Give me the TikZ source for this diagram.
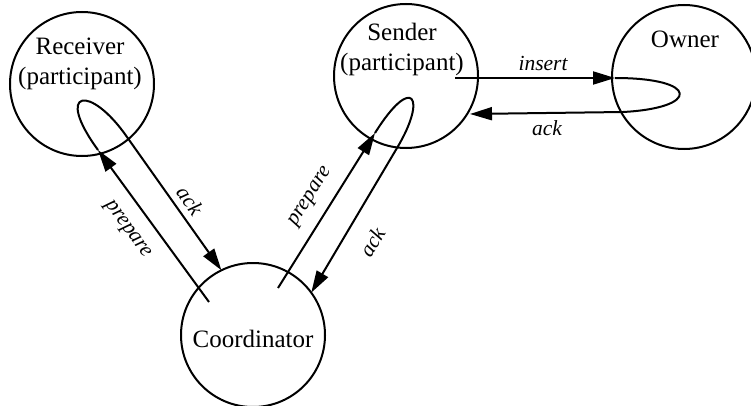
\documentclass[tikz,border=0pt]{standalone}
\usepackage{fontspec}
\setmainfont{Liberation Serif}
\usetikzlibrary{arrows.meta}
\begin{document}
\begin{tikzpicture}[x=1pt,y=-1pt,
  state/.style={circle,draw,line width=2pt,minimum size=144pt,inner sep=0pt,outer sep=0pt},
  nametext/.style={font=\fontsize{25}{30}\selectfont,align=center,inner sep=0pt},
  lbl/.style={font=\fontsize{21.5}{24}\selectfont\itshape,inner sep=0pt},
  arr/.style={line width=2pt,line join=round,-{Triangle[length=22pt,width=13pt]}}]
\useasboundingbox (0,0) rectangle (751,406);
% states
\node[state] (recv) at (82,84) {};
\node[state] (send) at (406,76) {};
\node[state] (own) at (684,77) {};
\node[state] (coord) at (253,335) {};
% state names
\node[nametext] (recvtxt) at (80,64) {Receiver\\(participant)};
\node[nametext] (sendtxt) at (402,49) {Sender\\(participant)};
\node[nametext,anchor=base] (owntxt) at (685,48) {Owner};
\node[nametext,anchor=base] (coordtxt) at (253,347) {Coordinator};
% connector points
\coordinate (rstart) at (209,302);
\coordinate (rtip) at (98,150);
\coordinate (rturn) at (127,137);
\coordinate (sstart) at (278,288);
\coordinate (stip) at (375,133);
\coordinate (sturn) at (397,148);
\coordinate (istart) at (455,78);
\coordinate (itip) at (615,78);
\coordinate (iturn) at (623,112);
\coordinate (atip) at (470,114);
% Coordinator <-> Receiver
\draw[arr] (rstart) -- (rtip);
\draw[arr] (rtip) .. controls (53.75,89.25) and (90,83.7) .. (rturn) -- (coord.116.6);
% Coordinator <-> Sender
\draw[arr] (sstart) -- (stip);
\draw[arr] (stip) .. controls (412.1,73.6) and (427.8,96.6) .. (sturn) -- (coord.36.4);
% Sender <-> Owner
\draw[arr] (istart) -- (itip);
\draw[arr] (itip) .. controls (700,78) and (700,108) .. (iturn) -- (atip);
% labels
\node[lbl,rotate=-54] (lrp) at (127,230) {prepare};
\node[lbl,rotate=-55] (lra) at (190,201) {ack};
\node[lbl,rotate=58] (lsp) at (311,197) {prepare};
\node[lbl,rotate=59] (lsa) at (372,242) {ack};
\node[lbl] (lins) at (543,63) {insert};
\node[lbl] (loa) at (547,128) {ack};
\end{tikzpicture}
\end{document}
